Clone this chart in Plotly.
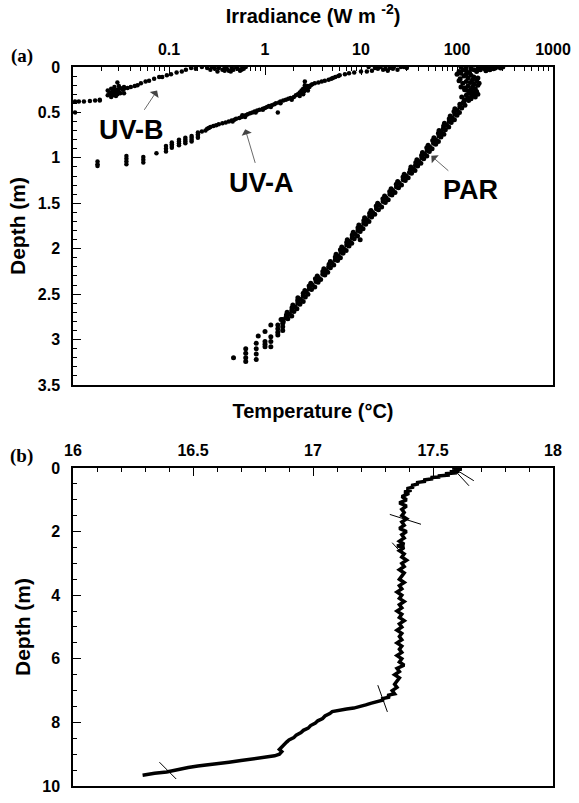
import plotly.graph_objects as go

# ---------------- Panel (a): irradiance profiles ----------------
uvb_depth = [0.00, 0.01, 0.00, 0.02, 0.01, 0.03, 0.00, 0.02, 0.04, 0.01, 0.03, 0.00, 0.02, 0.04, 0.01,
             0.02, 0.00, 0.03, 0.05, 0.04, 0.05, 0.03,
             0.02, 0.01, 0.03, 0.05, 0.06, 0.08, 0.09, 0.11, 0.11, 0.13, 0.15, 0.16, 0.18, 0.20, 0.21,
             0.22, 0.23,
             0.21, 0.22, 0.23, 0.24, 0.25, 0.25, 0.26, 0.26, 0.27, 0.27, 0.28, 0.28, 0.29, 0.29, 0.30,
             0.30, 0.31, 0.31, 0.32, 0.33, 0.24, 0.22, 0.29, 0.17,
             0.37, 0.37, 0.375, 0.38, 0.38, 0.38, 0.36, 0.50]
uvb_irr = [0.22, 0.25, 0.28, 0.30, 0.33, 0.36, 0.38, 0.40, 0.42, 0.45, 0.47, 0.50, 0.52, 0.55, 0.58,
           0.60, 0.63, 0.27, 0.32, 0.38, 0.44, 0.57,
           0.19, 0.17, 0.15, 0.136, 0.12, 0.105, 0.095, 0.085, 0.079, 0.070, 0.062, 0.057, 0.051, 0.047, 0.044,
           0.040, 0.037,
           0.030, 0.027, 0.031, 0.025, 0.029, 0.033, 0.027, 0.023, 0.030, 0.026, 0.028, 0.024, 0.031, 0.027, 0.025,
           0.029, 0.026, 0.023, 0.028, 0.025, 0.034, 0.034, 0.034, 0.029,
           0.019, 0.017, 0.015, 0.013, 0.0115, 0.0105, 0.019, 0.0105]

uva_depth = [0.00, 0.01, 0.00, 0.02, 0.01, 0.00, 0.03, 0.00, 0.02, 0.04, 0.03, 0.05, 0.06, 0.05, 0.04,
             0.00, 0.01, 0.02,
             0.07, 0.08, 0.09, 0.10, 0.11, 0.12, 0.13, 0.14, 0.15, 0.16, 0.17, 0.18, 0.19, 0.20, 0.21,
             0.22, 0.23, 0.24, 0.25, 0.26, 0.27, 0.28, 0.29, 0.30, 0.31, 0.32, 0.33, 0.34, 0.35, 0.36,
             0.37, 0.38, 0.39, 0.40, 0.41, 0.42, 0.43, 0.44, 0.45, 0.46, 0.47, 0.48, 0.49, 0.50, 0.51,
             0.52, 0.53, 0.54, 0.55, 0.56, 0.57, 0.58, 0.59, 0.60, 0.61, 0.62, 0.63, 0.64, 0.65, 0.66,
             0.67, 0.68, 0.70, 0.71, 0.72,
             0.20, 0.26, 0.30, 0.36, 0.40, 0.44, 0.50, 0.55, 0.60, 0.53, 0.47, 0.16, 0.50,
             0.74, 0.76, 0.78, 0.76, 0.78, 0.80, 0.82, 0.78, 0.80, 0.82, 0.84, 0.80, 0.82, 0.84, 0.86,
             0.83, 0.85, 0.87, 0.89, 0.87, 0.90, 0.93, 0.95, 0.99, 1.02, 1.05, 0.98, 1.01, 1.04, 1.07,
             1.04, 1.07, 1.09]
uva_irr = [12, 14, 16, 18, 20, 22, 24, 26, 15, 13, 17, 10, 8.5, 11.5, 19,
           28, 30, 21.5,
           7.5, 6.8, 6.0, 5.8, 5.4, 5.1, 4.9, 4.6, 4.2, 3.9, 3.6, 3.3, 3.1, 3.0, 2.8,
           2.9, 2.6, 2.5, 2.75, 2.4, 2.55, 2.3, 2.45, 2.2, 2.1, 2.3, 2.0, 1.85, 1.75, 1.65,
           1.55, 1.45, 1.4, 1.3, 1.25, 1.18, 1.1, 1.05, 1.0, 0.95, 0.88, 0.83, 0.78, 0.74, 0.70,
           0.66, 0.63, 0.60, 0.57, 0.54, 0.50, 0.48, 0.45, 0.42, 0.39, 0.36, 0.33, 0.31, 0.29, 0.27,
           0.26, 0.25, 0.24, 0.22, 0.20,
           2.6, 2.8, 2.5, 1.9, 1.45, 1.15, 0.80, 0.62, 0.46, 0.58, 0.95, 2.6, 1.36,
           0.20, 0.20, 0.20, 0.172, 0.172, 0.172, 0.172, 0.148, 0.148, 0.148, 0.148, 0.127, 0.127, 0.127, 0.127,
           0.107, 0.107, 0.107, 0.107, 0.093, 0.093, 0.093, 0.074, 0.054, 0.054, 0.054, 0.036, 0.036, 0.036, 0.036,
           0.018, 0.018, 0.018]

par_depth = [0.00, 0.00, 0.01, 0.00, 0.01, 0.02, 0.01, 0.02, 0.03, 0.02, 0.04, 0.03, 0.05, 0.01, 0.02,
             0.03, 0.04, 0.03, 0.05, 0.06, 0.00, 0.00,
             0.07, 0.08, 0.09, 0.10, 0.11, 0.12, 0.13, 0.14, 0.15, 0.16, 0.17, 0.18, 0.19, 0.20, 0.21,
             0.22, 0.23, 0.24, 0.25, 0.26, 0.27, 0.28, 0.29, 0.30, 0.31, 0.32, 0.33, 0.34, 0.35, 0.36,
             0.37, 0.38, 0.12, 0.18, 0.25, 0.30, 0.08, 0.15, 0.22, 0.33,
             0.40, 0.44, 0.48, 0.52, 0.56, 0.60, 0.64, 0.68, 0.72, 0.76, 0.80, 0.84, 0.88, 0.92, 0.96,
             1.00, 1.04, 1.08, 1.12, 1.16, 1.20, 1.24, 1.28, 1.32, 1.36, 1.40, 1.44, 1.48, 1.52, 1.56,
             1.60, 1.64, 1.68, 1.72, 1.76, 1.80, 1.84, 1.88, 1.92, 1.96, 2.00, 2.04, 2.08, 2.12, 2.16,
             2.20, 2.24, 2.28, 2.32, 2.36, 2.40, 2.44, 2.48, 2.52, 2.56, 2.60, 2.64, 2.68, 2.72, 2.76,
             2.80,
             0.42, 0.46, 0.50, 0.54, 0.58, 0.62, 0.66, 0.70, 0.74, 0.78, 0.82, 0.86, 0.90, 0.94, 0.98,
             1.02, 1.06, 1.10, 1.14, 1.18, 1.22, 1.26, 1.30, 1.34, 1.38, 1.42, 1.46, 1.50, 1.54, 1.58,
             1.62, 1.66, 1.70, 1.74, 1.78, 1.82, 1.86, 1.90, 1.94, 1.98, 2.02, 2.06, 2.10, 2.14, 2.18,
             2.22, 2.26, 2.30, 2.34, 2.38, 2.42, 2.46, 2.50, 2.54, 2.58, 2.62, 2.66, 2.70, 2.74, 2.78,
             0.41, 0.45, 0.49, 0.53, 0.57, 0.61, 0.65, 0.69, 0.73, 0.77, 0.81, 0.85, 0.89, 0.93, 0.97,
             1.01, 1.05, 1.09, 1.13, 1.17, 1.21, 1.25, 1.29, 1.33, 1.37, 1.41, 1.45, 1.49, 1.53, 1.57,
             1.61, 1.65, 1.69, 1.73, 1.77, 1.81, 1.85, 1.89, 1.93, 1.97, 2.01, 2.05, 2.09, 2.13, 2.17,
             2.21, 2.25, 2.29, 2.33, 2.37, 2.41, 2.45, 2.49, 2.53, 2.57, 2.61, 2.65, 2.69, 2.73, 2.77,
             1.90,
             2.84, 2.84, 2.88, 2.92, 2.95, 2.78, 2.82, 2.86, 2.90, 2.73, 2.91, 3.02, 3.05, 3.08, 2.97,
             3.02, 3.08, 2.96, 3.04, 3.10, 3.16, 3.22, 3.10, 3.15, 3.20, 3.24, 3.20]
par_irr = [300, 270, 250, 230, 210, 195, 180, 165, 150, 140, 125, 115, 105, 285, 240,
           220, 200, 175, 160, 135, 110, 125,
           110, 125, 140, 118, 150, 130, 108, 145, 160, 125, 138, 115, 150, 165, 130,
           145, 120, 155, 140, 128, 160, 148, 135, 150, 125, 142, 155, 130, 140, 120,
           132, 118, 165, 170, 120, 165, 100, 105, 110, 112,
           115, 107, 100, 95, 89, 83, 78, 72, 69, 65, 60, 57, 52, 49, 46,
           43, 40, 37, 35, 32, 29.5, 27.5, 25, 23.4, 21.4, 20, 18.2, 17, 15.5, 14.5,
           13.2, 12.3, 11.5, 10.7, 10, 9.3, 8.7, 8.1, 7.6, 7.1, 6.6, 6.2, 5.8, 5.4, 5.0,
           4.6, 4.3, 4.0, 3.6, 3.4, 3.1, 2.9, 2.7, 2.5, 2.35, 2.2, 2.05, 1.9, 1.8, 1.65,
           1.55,
           121, 95, 106, 85, 94, 74, 82, 65, 73, 57.5, 64, 50, 55, 43.7, 48.5,
           38.2, 42, 33.1, 36.5, 28.2, 31, 24.1, 26.4, 20.6, 22.6, 17.6, 19.2, 14.9, 16.4, 12.7,
           13.9, 10.9, 12.1, 9.5, 10.5, 8.3, 9.2, 7.2, 8.0, 6.3, 7.0, 5.5, 6.1, 4.8, 5.2,
           4.1, 4.5, 3.5, 3.8, 3.0, 3.3, 2.6, 2.8, 2.2, 2.5, 1.95, 2.15, 1.7, 1.9, 1.47,
           107, 112, 93, 100, 83, 87, 72.5, 75.6, 64, 68, 55.8, 60, 48.4, 51.5, 42.8,
           45, 37.2, 38.9, 32.6, 33.6, 27.4, 28.9, 23.3, 24.6, 19.9, 21, 16.9, 17.9, 14.4, 15.2,
           12.3, 12.9, 10.7, 11.2, 9.3, 9.8, 8.1, 8.5, 7.1, 7.5, 6.1, 6.5, 5.4, 5.7, 4.65,
           4.8, 4.0, 4.2, 3.35, 3.57, 2.88, 3.05, 2.5, 2.63, 2.19, 2.31, 1.91, 2.0, 1.67, 1.73,
           9.8,
           1.15, 1.36, 1.36, 1.36, 1.36, 1.53, 1.53, 1.53, 1.53, 1.7, 1.0, 1.0, 1.0, 1.0, 1.15,
           1.15, 1.15, 0.85, 0.81, 0.81, 0.81, 0.81, 0.63, 0.63, 0.63, 0.63, 0.47]

# ---------------- Panel (b): temperature profile ----------------
temp_depth = [0.00, 0.03, 0.06, 0.10, 0.12, 0.15, 0.18, 0.22, 0.25, 0.28, 0.30, 0.34, 0.38, 0.42, 0.46,
              0.50, 0.55, 0.60, 0.65, 0.70, 0.75, 0.80, 0.90, 1.00, 1.10, 1.20, 1.30, 1.40, 1.50, 1.60,
              1.70, 1.80, 1.90, 2.00, 2.10, 2.20, 2.30, 2.40, 2.45, 2.50, 2.60, 2.70, 2.80, 2.90,
              3.00, 3.10, 3.20, 3.30, 3.40, 3.50, 3.60, 3.70, 3.80, 3.90, 4.00, 4.10, 4.20, 4.30, 4.40,
              4.50, 4.60, 4.70, 4.80, 4.90, 5.00, 5.10, 5.20, 5.30, 5.40, 5.50, 5.60, 5.70, 5.80, 5.90,
              6.00, 6.10, 6.20, 6.30, 6.40, 6.50, 6.60, 6.70, 6.80, 6.90, 7.00, 7.10, 7.15, 7.20, 7.25,
              7.30, 7.35, 7.40, 7.45, 7.50, 7.55, 7.58, 7.62, 7.66, 7.72, 7.80, 7.88, 7.95,
              8.02, 8.10, 8.18, 8.25, 8.32, 8.40, 8.48, 8.55, 8.62, 8.70, 8.78, 8.85, 8.92, 9.00, 9.05,
              9.10, 9.13, 9.16, 9.20, 9.25, 9.30, 9.33, 9.37, 9.42, 9.47, 9.53, 9.56, 9.60, 9.63, 9.66]
temp_c = [17.58, 17.62, 17.59, 17.61, 17.57, 17.60, 17.55, 17.57, 17.52, 17.53, 17.49, 17.50, 17.46, 17.47, 17.43,
          17.44, 17.41, 17.42, 17.39, 17.41, 17.38, 17.40, 17.37, 17.39, 17.36, 17.39, 17.37, 17.38, 17.37, 17.39,
          17.37, 17.38, 17.36, 17.39, 17.37, 17.38, 17.36, 17.38, 17.35, 17.38, 17.36, 17.38, 17.37, 17.39,
          17.37, 17.38, 17.36, 17.38, 17.37, 17.36, 17.38, 17.36, 17.37, 17.35, 17.37, 17.36, 17.38, 17.36, 17.37,
          17.35, 17.37, 17.36, 17.38, 17.36, 17.37, 17.35, 17.37, 17.36, 17.37, 17.35, 17.37, 17.36, 17.37, 17.35,
          17.37, 17.36, 17.38, 17.35, 17.36, 17.34, 17.36, 17.35, 17.34, 17.35, 17.33, 17.34, 17.31, 17.32, 17.29,
          17.29, 17.26, 17.24, 17.22, 17.20, 17.17, 17.14, 17.10, 17.08, 17.07, 17.05, 17.04, 17.02,
          17.01, 16.99, 16.98, 16.96, 16.95, 16.93, 16.92, 16.90, 16.89, 16.88, 16.87, 16.86, 16.87, 16.86, 16.84,
          16.80, 16.77, 16.74, 16.70, 16.65, 16.59, 16.56, 16.52, 16.48, 16.45, 16.41, 16.39, 16.34, 16.31, 16.29]

# isolated spikes crossing the profile (segments separated by None)
spike_depth = [0.12, 0.40, None, 0.15, 0.56, None, 1.46, 1.77, None, 2.35, 2.60, None,
               6.83, 7.67, None, 9.25, 9.78]
spike_temp = [17.61, 17.67, None, 17.60, 17.65, None, 17.32, 17.45, None, 17.33, 17.36, None,
              17.27, 17.31, None, 16.36, 16.43]

irr_tickvals = [0.1, 1, 10, 100, 1000]
irr_ticktext = ["0.1", "1", "10", "100", "1000"]
irr_minor = [m * 10.0 ** e for e in range(-2, 3) for m in range(2, 10)]

FONT = "Liberation Sans, Arial, sans-serif"
SERIF = "Liberation Serif, Times New Roman, serif"

fig = go.Figure()
for d, v, name, sz in [(uvb_depth, uvb_irr, "UV-B", 4.5), (uva_depth, uva_irr, "UV-A", 4.5),
                       (par_depth, par_irr, "PAR", 5)]:
    fig.add_trace(go.Scatter(x=v, y=d, mode="markers", marker=dict(color="black", size=sz), name=name,
                             xaxis="x", yaxis="y", showlegend=False))
fig.add_trace(go.Scatter(x=temp_c, y=temp_depth, mode="lines", line=dict(color="black", width=3.5),
                         xaxis="x2", yaxis="y2", showlegend=False))
fig.add_trace(go.Scatter(x=spike_temp, y=spike_depth, mode="lines", line=dict(color="black", width=1),
                         connectgaps=False, xaxis="x2", yaxis="y2", showlegend=False))

tickfont = dict(family=FONT, size=16, color="black", weight="bold")
titlefont = dict(family=FONT, size=20, color="black", weight="bold")
axis_common = dict(showline=True, linecolor="black", linewidth=1.5, mirror=True, showgrid=False,
                   zeroline=False, ticks="inside", ticklen=8, tickwidth=1, tickcolor="black",
                   tickfont=tickfont)

fig.update_layout(
    width=579, height=803,
    margin=dict(l=73, r=21, t=67, b=8),
    paper_bgcolor="white", plot_bgcolor="white",
    xaxis=dict(type="log", range=[-2, 3], side="top", anchor="y", domain=[0, 1],
               tickmode="array", tickvals=irr_tickvals, ticktext=irr_ticktext,
               minor=dict(tickvals=irr_minor, ticks="inside", ticklen=4, tickcolor="black"),
               title=dict(text="Irradiance (W m <sup>-2</sup>)", font=titlefont, standoff=12),
               ticklabelstandoff=4, **axis_common),
    yaxis=dict(range=[3.5, 0], anchor="x", domain=[0.5577, 1], dtick=0.5,
               minor=dict(dtick=0.1, ticks="inside", ticklen=4, tickcolor="black"),
               title=dict(text="Depth (m)", font=dict(family=FONT, size=21, color="black", weight="bold"),
                          standoff=6),
               ticklabelstandoff=8, **axis_common),
    xaxis2=dict(range=[16, 18], side="top", anchor="y2", domain=[0, 1], dtick=0.5,
                minor=dict(dtick=0.1, ticks="inside", ticklen=4, tickcolor="black"),
                title=dict(text="Temperature (°C)", font=titlefont, standoff=18),
                ticklabelstandoff=4, **axis_common),
    yaxis2=dict(range=[10, 0], anchor="x2", domain=[0, 0.4423], dtick=2,
                minor=dict(dtick=0.5, ticks="inside", ticklen=4, tickcolor="black"),
                title=dict(text="Depth (m)", font=dict(family=FONT, size=21, color="black", weight="bold"),
                           standoff=6),
                ticklabelstandoff=8, **axis_common),
)

lab_font = dict(family=FONT, size=27, color="black", weight="bold")
lab = dict(showarrow=True, arrowhead=1, arrowsize=2.2, arrowwidth=0.8, arrowcolor="#444",
           xref="x", yref="y", axref="pixel", ayref="pixel", font=lab_font, startstandoff=4)
# head positions (irradiance in log10 units, depth in m); label offset in pixels
fig.add_annotation(x=-1.124, y=0.26, ax=-26, ay=39, text="UV-B", **lab)
fig.add_annotation(x=-0.206, y=0.685, ax=16, ay=54, text="UV-A", **lab)
fig.add_annotation(x=1.732, y=0.978, ax=39, ay=34, text="PAR", **lab)
fig.add_annotation(x=-0.107, y=1.015, xref="paper", yref="paper", text="(a)", showarrow=False,
                   xanchor="center", yanchor="middle",
                   font=dict(family=SERIF, size=19, color="black", weight="bold"))
fig.add_annotation(x=-0.107, y=0.459, xref="paper", yref="paper", text="(b)", showarrow=False,
                   xanchor="center", yanchor="middle",
                   font=dict(family=SERIF, size=19, color="black", weight="bold"))

fig.write_html("out.html")
